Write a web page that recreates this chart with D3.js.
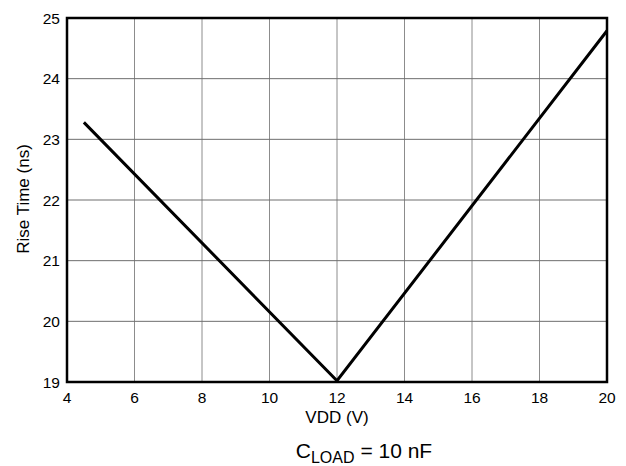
<!DOCTYPE html>
<html>
<head>
<meta charset="utf-8">
<script src="https://cdn.jsdelivr.net/npm/d3@7"></script>
<style>
  body { margin: 0; background: #fff; }
  text { font-family: "Liberation Sans", Arial, sans-serif; fill: #000; }
</style>
</head>
<body>
<svg id="chart" width="626" height="466"></svg>
<script>
// data
const vdd = [4.5, 12, 20];
const riseTime = [23.28, 19.02, 24.79];
const xTicks = [4, 6, 8, 10, 12, 14, 16, 18, 20];
const yTicks = [19, 20, 21, 22, 23, 24, 25];

const margin = { left: 67, top: 18, right: 19, bottom: 84 };
const width = 626, height = 466;

const svg = d3.select('#chart');

const x = d3.scaleLinear().domain([4, 20]).range([margin.left, width - margin.right]);
const y = d3.scaleLinear().domain([19, 25]).range([height - margin.bottom, margin.top]);

// grid
svg.append('g')
  .selectAll('line')
  .data(xTicks.slice(1, -1))
  .join('line')
  .attr('x1', d => x(d)).attr('x2', d => x(d))
  .attr('y1', y(19)).attr('y2', y(25))
  .attr('stroke', '#8c8c8c')
  .attr('stroke-width', 1);

svg.append('g')
  .selectAll('line')
  .data(yTicks.slice(1, -1))
  .join('line')
  .attr('x1', x(4)).attr('x2', x(20))
  .attr('y1', d => y(d)).attr('y2', d => y(d))
  .attr('stroke', '#6e6e6e')
  .attr('stroke-width', 1);

// tick labels
svg.append('g')
  .selectAll('text')
  .data(xTicks)
  .join('text')
  .attr('x', d => x(d))
  .attr('y', y(19) + 21)
  .attr('text-anchor', 'middle')
  .attr('font-size', 15.5)
  .text(d => d);

svg.append('g')
  .selectAll('text')
  .data(yTicks)
  .join('text')
  .attr('x', x(4) - 7)
  .attr('y', d => y(d) + 5.5)
  .attr('text-anchor', 'end')
  .attr('font-size', 15.5)
  .text(d => d);

// the curve
const line = d3.line().x(d => x(d[0])).y(d => y(d[1]));
svg.append('path')
  .datum(vdd.map((v, i) => [v, riseTime[i]]))
  .attr('d', line)
  .attr('fill', 'none')
  .attr('stroke', '#000')
  .attr('stroke-width', 3);

// frame
svg.append('rect')
  .attr('x', x(4)).attr('y', y(25))
  .attr('width', x(20) - x(4))
  .attr('height', y(19) - y(25))
  .attr('fill', 'none')
  .attr('stroke', '#000')
  .attr('stroke-width', 2.5);

// axis titles
svg.append('text')
  .attr('x', (x(4) + x(20)) / 2)
  .attr('y', 423)
  .attr('text-anchor', 'middle')
  .attr('font-size', 17)
  .text('VDD (V)');

svg.append('text')
  .attr('transform', `translate(29, 199) rotate(-90)`)
  .attr('text-anchor', 'middle')
  .attr('font-size', 17)
  .text('Rise Time (ns)');

const cap = svg.append('text')
  .attr('x', 364)
  .attr('y', 458)
  .attr('text-anchor', 'middle')
  .attr('font-size', 21);
cap.append('tspan').text('C');
cap.append('tspan').attr('font-size', 16).attr('dy', 5).text('LOAD');
cap.append('tspan').attr('dy', -5).text(' = 10 nF');
</script>
</body>
</html>
